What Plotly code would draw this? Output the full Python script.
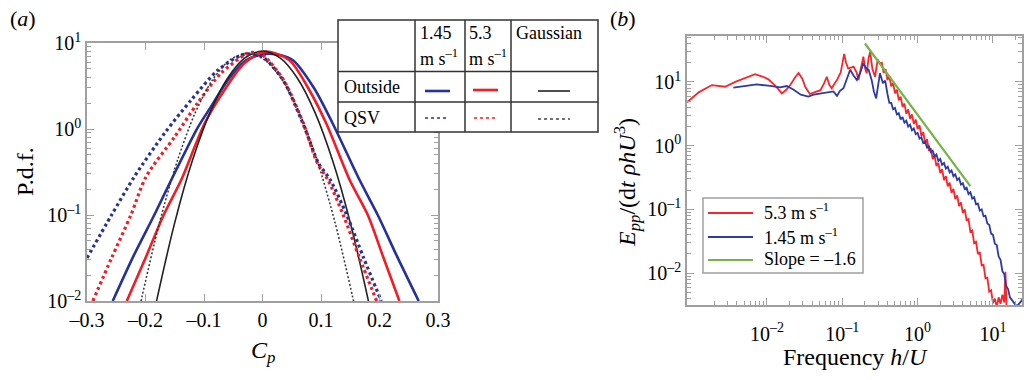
import numpy as np
import plotly.graph_objects as go

W, H = 1027, 380
SERIF = "Liberation Serif"

# ---------------- (a) p.d.f. of the pressure coefficient ----------------
CP_OUT_145 = [-0.256, -0.22, -0.185, -0.156, -0.111, -0.088, -0.059, -0.03, 0.0, 0.012,
              0.03, 0.052, 0.088, 0.12, 0.166, 0.197, 0.23, 0.267]
PDF_OUT_145 = [0.01, 0.0339, 0.1, 0.255, 1.03, 1.82, 3.72, 6.17, 7.41, 7.5,
               7.24, 6.31, 3.0, 1.16, 0.255, 0.1, 0.033, 0.01]

CP_OUT_53 = [-0.232, -0.2, -0.169, -0.139, -0.099, -0.065, -0.031, 0.005, 0.046, 0.078,
             0.109, 0.149, 0.18, 0.207, 0.234]
PDF_OUT_53 = [0.01, 0.0316, 0.1, 0.255, 1.16, 2.84, 5.81, 7.94, 6.31, 3.0,
              1.16, 0.255, 0.1, 0.0316, 0.01]

CP_GAUSS_OUT = [-0.19, -0.18, -0.15, -0.12, -0.09, -0.06, -0.03, 0.0, 0.03, 0.06, 0.09,
                0.12, 0.15, 0.18, 0.19]
PDF_GAUSS_OUT = [0.0051, 0.0108, 0.0816, 0.426, 1.54, 3.87, 6.71, 8.06, 6.71, 3.87, 1.54,
                 0.426, 0.0816, 0.0108, 0.0051]

CP_QSV_145 = [-0.30, -0.258, -0.219, -0.1675, -0.122, -0.076, -0.036, -0.022, 0.0, 0.035,
              0.069, 0.096, 0.116, 0.144, 0.173, 0.203]
PDF_QSV_145 = [0.0316, 0.1, 0.279, 0.891, 2.17, 4.85, 7.24, 7.41, 6.92, 3.72,
               1.16, 0.398, 0.255, 0.1, 0.0316, 0.01]

CP_QSV_53 = [-0.29, -0.258, -0.225, -0.199, -0.15, -0.111, -0.071, -0.031, -0.02, 0.0,
             0.035, 0.069, 0.094, 0.112, 0.138, 0.166, 0.195]
PDF_QSV_53 = [0.01, 0.0316, 0.1, 0.279, 0.813, 2.0, 4.45, 7.24, 7.76, 7.24,
              3.80, 1.20, 0.398, 0.255, 0.1, 0.0316, 0.01]

CP_GAUSS_QSV = [-0.216, -0.206, -0.176, -0.146, -0.116, -0.086, -0.056, -0.026, 0.004,
                0.034, 0.064, 0.094, 0.124, 0.154, 0.164]
PDF_GAUSS_QSV = [0.0053, 0.0112, 0.0818, 0.418, 1.49, 3.68, 6.34, 7.6, 6.34,
                 3.68, 1.49, 0.418, 0.0818, 0.0112, 0.0053]

CP_TICKS = [-0.3, -0.2, -0.1, 0.0, 0.1, 0.2, 0.3]
CP_TICK_TEXT = ["–0.3", "–0.2", "–0.1", "0", "0.1", "0.2", "0.3"]
PDF_TICKS = [0.01, 0.1, 1, 10]
PDF_TICK_TEXT = ["10<sup>–2</sup>", "10<sup>–1</sup>", "10<sup>0</sup>", "10<sup>1</sup>"]

# ---------------- (b) pressure spectra, stored as log10 decades ----------------
LOGF_53 = [-3.06, -2.90, -2.73, -2.62, -2.555, -2.42, -2.30, -2.157, -2.05, -1.98, -1.88,
           -1.80, -1.74, -1.69, -1.62, -1.58, -1.53, -1.49, -1.43, -1.36, -1.29, -1.24,
           -1.205, -1.17, -1.14, -1.10, -1.07, -1.02, -0.975, -0.95, -0.92, -0.85, -0.81,
           -0.785, -0.75, -0.72, -0.695, -0.675, -0.65, -0.63, -0.60, -0.565, -0.53, -0.50,
           -0.475, -0.45, -0.425, -0.40, -0.375, -0.35, -0.325, -0.30, -0.275, -0.25, -0.225,
           -0.20, -0.175, -0.15, -0.125, -0.10, -0.075, -0.05, -0.025, 0.0, 0.025, 0.05,
           0.075, 0.10, 0.125, 0.15, 0.175, 0.20, 0.225, 0.25, 0.275, 0.30, 0.325, 0.35,
           0.375, 0.40, 0.425, 0.45, 0.475, 0.50, 0.525, 0.55, 0.575, 0.60, 0.625, 0.65,
           0.675, 0.70, 0.725, 0.75, 0.775, 0.80, 0.825, 0.85, 0.875, 0.90, 0.925, 0.95,
           0.975, 1.00, 1.025, 1.05, 1.075, 1.10, 1.125, 1.15, 1.165, 1.18]
LOGE_53 = [0.68, 0.84, 0.95, 0.93, 0.924, 1.0, 1.05, 1.12, 1.08, 1.04, 0.93,
           0.82, 0.88, 0.95, 1.08, 1.14, 1.05, 0.92, 0.81, 0.84, 0.87, 0.98,
           1.08, 0.95, 0.90, 0.98, 1.03, 1.15, 1.44, 1.30, 1.21, 1.24, 1.15,
           1.03, 1.25, 1.395, 1.20, 1.135, 1.38, 1.47, 1.20, 1.08, 1.35, 1.29,
           1.30, 1.14, 1.20, 1.03, 1.09, 0.93, 0.98, 0.82, 0.88, 0.71, 0.77,
           0.61, 0.66, 0.50, 0.57, 0.42, 0.49, 0.34, 0.41, 0.26, 0.32, 0.15,
           0.21, 0.04, 0.10, -0.08, -0.04, -0.21, -0.16, -0.32, -0.27, -0.43, -0.37, -0.54,
           -0.48, -0.64, -0.58, -0.74, -0.68, -0.84, -0.78, -0.95, -0.89, -1.06, -1.00, -1.17,
           -1.15, -1.35, -1.33, -1.53, -1.51, -1.70, -1.67, -1.88, -1.87, -2.08, -2.07, -2.29,
           -2.27, -2.47, -2.40, -2.53, -2.38, -2.48, -2.34, -2.46, -1.98, -2.55]

LOGF_145 = [-2.445, -2.30, -2.135, -1.98, -1.825, -1.736, -1.65, -1.55, -1.45, -1.38, -1.294,
            -1.20, -1.117, -1.07, -1.03, -0.984, -0.94, -0.895, -0.85, -0.806, -0.76, -0.72,
            -0.685, -0.65, -0.61, -0.58, -0.55, -0.52, -0.50, -0.46, -0.43,
            -0.40, -0.375, -0.35, -0.325, -0.30, -0.275, -0.25, -0.225, -0.20, -0.175,
            -0.15, -0.125, -0.10, -0.075, -0.05, -0.025, 0.0, 0.025, 0.05, 0.075, 0.10,
            0.125, 0.15, 0.175, 0.20, 0.225, 0.25, 0.275, 0.30, 0.325, 0.35, 0.375, 0.40,
            0.425, 0.45, 0.475, 0.50, 0.525, 0.55, 0.575, 0.60, 0.625, 0.65, 0.675, 0.70,
            0.725, 0.75, 0.775, 0.80, 0.825, 0.85, 0.875, 0.90, 0.925, 0.95, 0.975, 1.00,
            1.025, 1.05, 1.075, 1.10, 1.125, 1.15, 1.175, 1.20, 1.225, 1.25, 1.275, 1.30,
            1.325, 1.35, 1.375, 1.41]
LOGE_145 = [0.91, 0.935, 0.96, 0.94, 0.915, 0.935, 0.88, 0.80, 0.77, 0.80, 0.82,
            0.84, 0.85, 0.78, 0.86, 0.90, 1.05, 1.19, 1.10, 1.03, 1.15, 1.29,
            1.22, 1.19, 1.03, 0.85, 0.74, 0.95, 1.135, 0.98, 1.02,
            0.81, 0.67, 0.67, 0.57, 0.59, 0.49, 0.51, 0.41, 0.45, 0.36,
            0.39, 0.30, 0.33, 0.24, 0.27, 0.18, 0.20, 0.11, 0.13, 0.04, 0.06,
            -0.03, -0.01, -0.10, -0.08, -0.17, -0.14, -0.24, -0.21, -0.30, -0.27, -0.36, -0.33,
            -0.42, -0.39, -0.48, -0.45, -0.54, -0.51, -0.61, -0.59, -0.68, -0.66, -0.76, -0.73,
            -0.83, -0.81, -0.92, -0.91, -1.02, -1.00, -1.11, -1.10, -1.22, -1.24, -1.38, -1.40,
            -1.54, -1.56, -1.74, -1.79, -1.97, -2.02, -2.20, -2.25, -2.38, -2.42, -2.47, -2.50,
            -2.51, -2.48, -2.44, -2.37]

# reference power law
SLOPE = -1.6
F_FIT = [0.2, 5.0]
E_FIT_START = 40.0

F_TICKS = [0.01, 0.1, 1, 10]
F_TICK_TEXT = ["10<sup>–2</sup>", "10<sup>–1</sup>", "10<sup>0</sup>", "10<sup>1</sup>"]
E_TICKS = [0.01, 0.1, 1, 10]
E_TICK_TEXT = ["10<sup>–2</sup>", "10<sup>–1</sup>", "10<sup>0</sup>", "10<sup>1</sup>"]

BLUE_A, RED_A = "#26329a", "#f21c24"
BLUE_B, RED_B, GREEN_B = "#2c3aa6", "#f8262a", "#74b543"
FRAME = "#a0a0a0"


def px(x):
    return x / W


def py(y):
    return 1 - y / H


def minor_log(lo, hi):
    return [k * 10.0 ** e for e in range(lo, hi) for k in range(2, 10)]


fig = go.Figure()

# panel (a) curves
pdf_traces = [
    (CP_OUT_145, PDF_OUT_145, BLUE_A, 2.6, "solid"),
    (CP_OUT_53, PDF_OUT_53, RED_A, 2.6, "solid"),
    (CP_GAUSS_OUT, PDF_GAUSS_OUT, "#222222", 1.6, "solid"),
    (CP_QSV_145, PDF_QSV_145, BLUE_A, 3.2, "3px,3px"),
    (CP_QSV_53, PDF_QSV_53, RED_A, 3.2, "3px,3px"),
    (CP_GAUSS_QSV, PDF_GAUSS_QSV, "#333333", 1.5, "2px,2px"),
]
for xs, ys, col, lw, dash in pdf_traces:
    fig.add_trace(go.Scatter(x=xs, y=ys, mode="lines", xaxis="x", yaxis="y",
                             line=dict(color=col, width=lw, dash=dash, shape="spline",
                                       smoothing=0.8),
                             showlegend=False, hoverinfo="skip"))

# panel (b) spectra
fig.add_trace(go.Scatter(x=10 ** np.array(LOGF_53), y=10 ** np.array(LOGE_53), mode="lines",
                         xaxis="x2", yaxis="y2", line=dict(color=RED_B, width=1.8),
                         showlegend=False))
fig.add_trace(go.Scatter(x=10 ** np.array(LOGF_145), y=10 ** np.array(LOGE_145), mode="lines",
                         xaxis="x2", yaxis="y2", line=dict(color=BLUE_B, width=1.8),
                         showlegend=False))
f_fit = np.array(F_FIT)
e_fit = E_FIT_START * (f_fit / f_fit[0]) ** SLOPE
fig.add_trace(go.Scatter(x=f_fit, y=e_fit, mode="lines", xaxis="x2", yaxis="y2",
                         line=dict(color=GREEN_B, width=2.2), showlegend=False))

tickfont = dict(family=SERIF, size=20, color="black")
frame = dict(showline=True, linecolor=FRAME, linewidth=1.5, mirror="ticks", ticks="inside",
             tickcolor=FRAME, ticklen=7, tickwidth=1, showgrid=False, zeroline=False,
             tickfont=tickfont, automargin=False)
minor = dict(ticks="inside", ticklen=4, tickcolor=FRAME, tickmode="array")

fig.update_layout(
    template="none",
    width=W, height=H, margin=dict(l=0, r=0, t=0, b=0, pad=0),
    paper_bgcolor="white", plot_bgcolor="white",
    xaxis=dict(frame, domain=[px(87), px(438)], range=[-0.3, 0.3], anchor="y",
               tickmode="array", tickvals=CP_TICKS, ticktext=CP_TICK_TEXT),
    yaxis=dict(frame, domain=[py(301), py(43)], type="log", range=[-2, 1], anchor="x",
               tickmode="array", tickvals=PDF_TICKS, ticktext=PDF_TICK_TEXT,
               minor=dict(minor, tickvals=minor_log(-2, 1))),
    xaxis2=dict(frame, domain=[px(687), px(1022)], type="log", range=[-3.06, 1.385],
                anchor="y2", tickmode="array", tickvals=F_TICKS, ticktext=F_TICK_TEXT,
                ticklabelstandoff=10,
                minor=dict(minor, tickvals=minor_log(-3, 2))),
    yaxis2=dict(frame, domain=[py(305), py(36)], type="log", range=[-2.50, 1.72],
                anchor="x2", tickmode="array", tickvals=E_TICKS, ticktext=E_TICK_TEXT,
                minor=dict(minor, tickvals=minor_log(-3, 2))),
)

shapes = []
ann = []


def text(x, y, s, size=18, xanchor="left", angle=0):
    ann.append(dict(x=px(x), y=py(y), xref="paper", yref="paper", text=s, showarrow=False,
                    xanchor=xanchor, yanchor="middle", textangle=angle,
                    font=dict(family=SERIF, size=size, color="black")))


def seg(x0, y0, x1, y1, color, width, dash="solid"):
    shapes.append(dict(type="line", xref="paper", yref="paper", x0=px(x0), y0=py(y0),
                       x1=px(x1), y1=py(y1), line=dict(color=color, width=width, dash=dash),
                       layer="above"))


# panel labels and axis titles
text(8, 18, "(<i>a</i>)", size=22)
text(608, 18, "(<i>b</i>)", size=22)
text(25, 172, "P.d.f.", size=24, xanchor="center", angle=-90)
text(263, 352, "<i>C<sub>p</sub></i>", size=24, xanchor="center")
text(627, 183, "<i>E<sub>pp</sub></i>/(d<i>t</i> <i>ρhU</i><sup>3</sup>)", size=24,
     xanchor="center", angle=-90)
text(855, 357, "Frequency <i>h</i>/<i>U</i>", size=24, xanchor="center")

# line-style table of panel (a)
rows = [20, 71.5, 102, 132]
cols = [338, 415, 465, 511, 598]
shapes.append(dict(type="rect", xref="paper", yref="paper", x0=px(cols[0]), x1=px(cols[-1]),
                   y0=py(rows[-1]), y1=py(rows[0]), fillcolor="white",
                   line=dict(color="#333333", width=1.5), layer="above"))
for r in rows[1:-1]:
    seg(cols[0], r, cols[-1], r, "#333333", 1.5)
for c in cols[1:-1]:
    seg(c, rows[0], c, rows[-1], "#333333", 1.5)
text(418, 33, "1.45")
text(418, 57, "m s<sup>–1</sup>")
text(467, 33, "5.3")
text(467, 57, "m s<sup>–1</sup>")
text(514, 33, "Gaussian")
text(342, 87, "Outside")
text(342, 118, "QSV")
seg(425, 91, 450, 91, BLUE_A, 2.6)
seg(473, 90, 498, 90, RED_A, 2.6)
seg(538, 91, 570, 91, "#222222", 1.6)
seg(425, 118, 449, 118, BLUE_A, 1.4, "dot")
seg(474, 118, 498, 118, RED_A, 1.4, "dot")
seg(538, 119, 570, 119, "#444444", 1.4, "dot")

# legend of panel (b)
shapes.append(dict(type="rect", xref="paper", yref="paper", x0=px(703), x1=px(863),
                   y0=py(273), y1=py(198), fillcolor="white",
                   line=dict(color=FRAME, width=1.5), layer="above"))
for yy, col, lab in [(213, RED_B, "5.3 m s<sup>–1</sup>"),
                     (237, BLUE_B, "1.45 m s<sup>–1</sup>"),
                     (260, GREEN_B, "Slope = –1.6")]:
    seg(708, yy, 753, yy, col, 2.2)
    text(762, yy - 1, lab, size=18)

fig.update_layout(shapes=shapes, annotations=ann)
fig.write_html("out.html")
